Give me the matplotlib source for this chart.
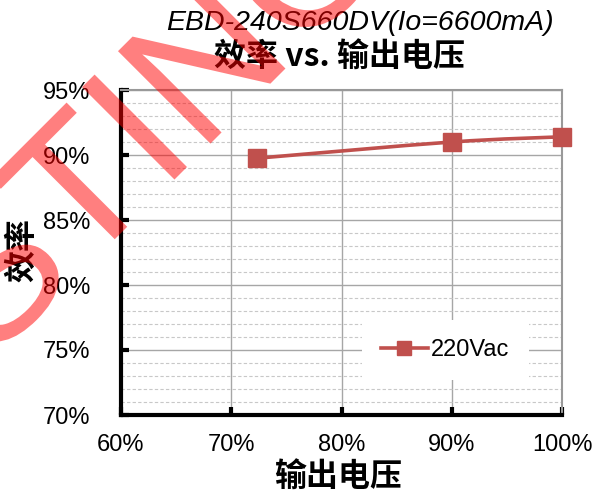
import matplotlib
matplotlib.use("Agg")
import matplotlib.pyplot as plt
from matplotlib.path import Path
from matplotlib.patches import PathPatch
from matplotlib.lines import Line2D
from matplotlib.ticker import MultipleLocator, FuncFormatter
from matplotlib.textpath import TextPath, TextToPath
from matplotlib.font_manager import FontProperties
from matplotlib.transforms import Affine2D, IdentityTransform
import numpy as np

# Data
output_voltage = [72.3, 90.0, 100.0]      # % of rated output voltage
efficiency = [89.75, 91.0, 91.4]          # %
series_label = "220Vac"
title_model = "EBD-240S660DV(Io=6600mA)"
title_main = "效率 vs. 输出电压"
x_label = "输出电压"
y_label = "效率"
watermark_head = "TES"
watermark_tail = "TING"

plt.rcParams['font.family'] = ['Liberation Sans', 'Noto Sans CJK SC', 'DejaVu Sans']
CJK = ['Noto Sans CJK SC', 'DejaVu Sans']
RED = '#C0504D'

W, H = 598, 497
fig = plt.figure(figsize=(W / 100, H / 100), dpi=100)
ax = fig.add_axes([121 / W, 1 - 415 / H, 441 / W, 325 / H])

ax.set_xlim(60, 100)
ax.set_ylim(70, 95)
ax.xaxis.set_major_locator(MultipleLocator(10))
ax.yaxis.set_major_locator(MultipleLocator(5))
ax.yaxis.set_minor_locator(MultipleLocator(1))
pct = FuncFormatter(lambda v, p: f"{v:.0f}%")
ax.xaxis.set_major_formatter(pct)
ax.yaxis.set_major_formatter(pct)

ax.grid(which='major', axis='both', color='#A6A6A6', lw=1.0, ls='-', zorder=0)
ax.grid(which='minor', axis='y', color='#C8C8C8', lw=0.8, ls=(0, (3, 2)), zorder=0)
ax.set_axisbelow(True)

for s in ['left', 'bottom']:
    ax.spines[s].set_color('black')
    ax.spines[s].set_linewidth(3)
for s in ['right', 'top']:
    ax.spines[s].set_color('#999999')
    ax.spines[s].set_linewidth(1.5)

ax.tick_params(which='major', direction='in', length=6, width=3, color='black',
               labelsize=17, top=False, right=False)
ax.tick_params(which='minor', length=0)
ax.tick_params(axis='y', pad=22)
ax.tick_params(axis='x', pad=14)

# Smoothed connecting curve (Catmull-Rom through the data points)
pts = np.column_stack([output_voltage, efficiency])
ext = np.vstack([pts[0], pts, pts[-1]])
verts = [tuple(pts[0])]
codes = [Path.MOVETO]
for i in range(1, len(ext) - 2):
    p0, p1, p2, p3 = ext[i - 1], ext[i], ext[i + 1], ext[i + 2]
    c1 = p1 + (p2 - p0) / 6
    c2 = p2 - (p3 - p1) / 6
    verts += [tuple(c1), tuple(c2), tuple(p2)]
    codes += [Path.CURVE4] * 3
ax.add_patch(PathPatch(Path(verts, codes), fill=False, edgecolor=RED, lw=2.6,
                       transform=ax.transData, zorder=3, clip_on=False))
ax.plot(output_voltage, efficiency, ls='none', marker='s', ms=13, color=RED,
        zorder=4, clip_on=False)

handle = Line2D([], [], color=RED, lw=2.6, marker='s', ms=10)
leg = ax.legend([handle], [series_label], loc='center', bbox_to_anchor=(0.735, 0.2),
                frameon=True, fancybox=False, framealpha=1, edgecolor='none',
                fontsize=17, handlelength=2.0, handletextpad=0.15,
                borderpad=0.8)
leg.get_frame().set_facecolor('white')

fig.text(360 / W, 1 - 23 / H, title_model, ha='center', va='center',
         fontsize=20.5, style='italic')
fig.text(340 / W, 1 - 58 / H, title_main, ha='center', va='center',
         fontsize=23, fontweight='bold', family=CJK)
fig.text(338 / W, 1 - 478 / H, x_label, ha='center', va='center',
         fontsize=23, fontweight='bold', family=CJK)
fig.text(22 / W, 1 - 250 / H, y_label, ha='center', va='center',
         fontsize=23, fontweight='bold', family=CJK, rotation=90)

# Translucent diagonal watermark, laid out in pixel space
em = 190
anchor_x, anchor_y = 80, 274          # baseline start of the tail, from top-left
fp = FontProperties(family='Liberation Sans', size=em)
head_w, _, _ = TextToPath().get_text_width_height_descent(watermark_head, fp, ismath=False)
wm_path = TextPath((0, 0), watermark_head + watermark_tail, prop=fp)
wm_tr = Affine2D().translate(-head_w, 0).rotate_deg(45).translate(anchor_x, H - anchor_y)
wm = PathPatch(wm_tr.transform_path(wm_path), transform=IdentityTransform(),
               facecolor='red', edgecolor='none', alpha=0.5, zorder=10)
fig.add_artist(wm)

fig.savefig('out.png', dpi=100)
